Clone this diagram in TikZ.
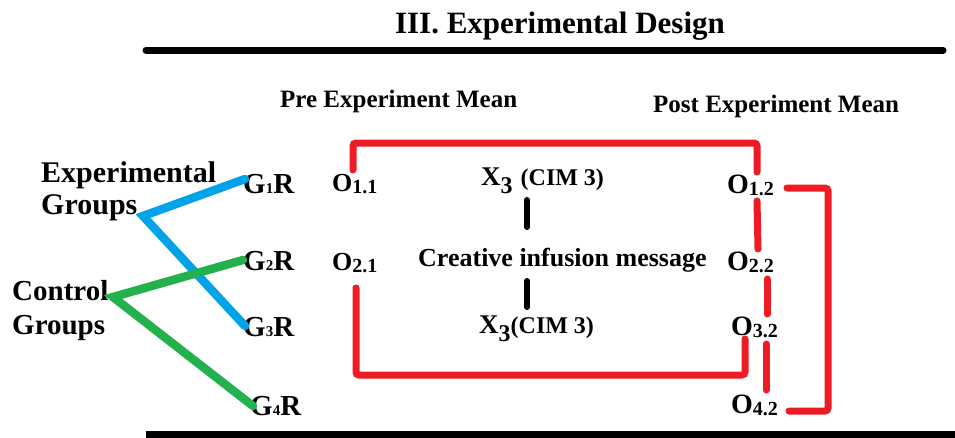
\documentclass[tikz,border=0pt]{standalone}
\usepackage{fontspec}
\setmainfont{Liberation Serif}
\newcommand{\setfs}[1]{\fontsize{#1}{#1}\selectfont}
\definecolor{myred}{HTML}{ED1C24}
\definecolor{myblue}{HTML}{00A2E8}
\definecolor{mygreen}{HTML}{22B14C}
\begin{document}
\begin{tikzpicture}[x=1pt,y=-1pt,font=\bfseries,
  lbl/.style={inner sep=0pt,anchor=base west},
  rule/.style={line width=7pt,line cap=round},
  redln/.style={draw=myred,line width=7pt,line cap=round,rounded corners=3pt},
  blueln/.style={draw=myblue,line width=8.5pt,line cap=round},
  greenln/.style={draw=mygreen,line width=8.5pt,line cap=round},
  barln/.style={draw=black,line width=6pt,line cap=round}]
\useasboundingbox (0,0) rectangle (955,437);
% rules
\coordinate (t1) at (146,50); \coordinate (t2) at (943,50);
\coordinate (b1) at (146,434); \coordinate (b2) at (958,434);
\draw[rule] (t1) -- (t2);
\draw[rule,line cap=butt] (b1) -- (b2);
% headings
\node[inner sep=0pt,anchor=base,font=\bfseries\setfs{31}] (title) at (560,33) {III. Experimental Design};
\node[lbl,font=\bfseries\setfs{25}] (pre) at (280,107) {Pre Experiment Mean};
\node[lbl,font=\bfseries\setfs{25}] (post) at (653,112) {Post Experiment Mean};
% group labels
\node[lbl,font=\bfseries\setfs{30}] (exp1) at (41,182) {Experimental};
\node[lbl,font=\bfseries\setfs{30}] (exp2) at (41,214) {Groups};
\node[lbl,font=\bfseries\setfs{29}] (con1) at (12,300) {Control};
\node[lbl,font=\bfseries\setfs{29}] (con2) at (12,334) {Groups};
% G nodes
\node[lbl,font=\bfseries\setfs{29}] (g1) at (243,193) {G\setfs{15}1\setfs{29}R};
\node[lbl,font=\bfseries\setfs{29}] (g2) at (243,270) {G\setfs{15}2\setfs{29}R};
\node[lbl,font=\bfseries\setfs{29}] (g3) at (243,336) {G\setfs{15}3\setfs{29}R};
\node[lbl,font=\bfseries\setfs{29}] (g4) at (250,415) {G\setfs{15}4\setfs{29}R};
% O nodes
\node[lbl,font=\bfseries\setfs{26}] (o11) at (332,191) {O\raisebox{-2pt}{\setfs{20}1.1}};
\node[lbl,font=\bfseries\setfs{26}] (o21) at (332,270) {O\raisebox{-2pt}{\setfs{20}2.1}};
\node[lbl,font=\bfseries\setfs{28}] (o12) at (727,193) {O\raisebox{-2pt}{\setfs{20}1.2}};
\node[lbl,font=\bfseries\setfs{28}] (o22) at (727,270) {O\raisebox{-2pt}{\setfs{20}2.2}};
\node[lbl,font=\bfseries\setfs{28}] (o32) at (731,335) {O\raisebox{-2pt}{\setfs{20}3.2}};
\node[lbl,font=\bfseries\setfs{28}] (o42) at (731,413) {O\raisebox{-2pt}{\setfs{20}4.2}};
% treatment
\node[lbl,font=\bfseries\setfs{27}] (x1) at (481,185) {X\raisebox{-8pt}{\setfs{24}3}\hspace{8pt}\setfs{24}(CIM 3)};
\node[lbl,font=\bfseries\setfs{26}] (cim) at (418,266) {Creative infusion message};
\node[lbl,font=\bfseries\setfs{27}] (x2) at (479,333) {X\raisebox{-8pt}{\setfs{24}3}\setfs{24}(CIM 3)};
\coordinate (k1) at (527,200); \coordinate (k2) at (527,227);
\coordinate (k3) at (527,281); \coordinate (k4) at (527,307);
\draw[barln] (k1) -- (k2);
\draw[barln] (k3) -- (k4);
% blue / green connectors
\coordinate (ej) at (143,216);
\coordinate (cj) at (113,297);
\coordinate (g1c) at (245,179);
\coordinate (g3c) at (245,326);
\coordinate (g2c) at (243,260);
\coordinate (g4c) at (253,406);
\draw[blueln] (g1c) -- (ej) -- (g3c);
\draw[greenln] (g2c) -- (cj) -- (g4c);
% red brackets
\coordinate (r1) at (353,170); \coordinate (r2) at (353,143);
\coordinate (r3) at (757,143); \coordinate (r4) at (757,172);
\draw[redln] (r1) -- (r2) -- (r3) -- (r4);
\coordinate (s1) at (356,288); \coordinate (s2) at (356,375);
\coordinate (s3) at (745,375); \coordinate (s4) at (745,339);
\draw[redln] (s1) -- (s2) -- (s3) -- (s4);
\coordinate (q1) at (787,188); \coordinate (q2) at (828,188);
\coordinate (q3) at (828,411); \coordinate (q4) at (789,411);
\draw[redln] (q1) -- (q2) -- (q3) -- (q4);
\coordinate (d1) at (757,201); \coordinate (d2) at (758,249);
\coordinate (d3) at (767,279); \coordinate (d4) at (767,314);
\coordinate (d5) at (766,344); \coordinate (d6) at (766,390);
\draw[redln] (d1) -- (d2);
\draw[redln] (d3) -- (d4);
\draw[redln] (d5) -- (d6);
\end{tikzpicture}
\end{document}
